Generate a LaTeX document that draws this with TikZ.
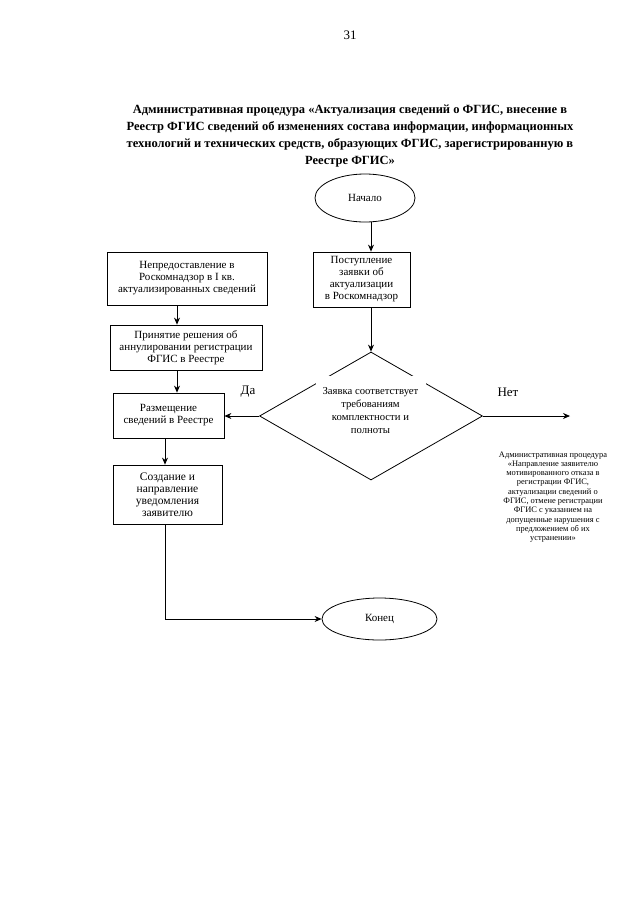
\documentclass[tikz,border=0pt]{standalone}
\usepackage{fontspec}
\setmainfont{Liberation Serif}
\usetikzlibrary{shapes.geometric,arrows.meta}
\newcommand{\fs}[2]{\fontsize{#1}{#2}\selectfont}
\tikzset{
  boxn/.style={draw, line width=0.8, align=center, inner sep=0, font=\fs{11}{12}},
  ovaln/.style={draw, ellipse, line width=0.8, inner sep=0, font=\fs{11}{12}},
  arr/.style={line width=0.8, -{Stealth[length=7,width=6]}},
  lbl/.style={font=\fs{13}{15}},
}
\begin{document}
\begin{tikzpicture}[x=1pt,y=-1pt]
\useasboundingbox[fill=white] (0,0) rectangle (640,905);
% page number and title
\node[font=\fs{13}{15}] (pg) at (350,35) {31};
\node[align=center, font=\bfseries\fs{12.5}{17}] (title) at (350,136)
  {Административная процедура «Актуализация сведений о ФГИС, внесение в\\
   Реестр ФГИС сведений об изменениях состава информации, информационных\\
   технологий и технических средств, образующих ФГИС, зарегистрированную в\\
   Реестре ФГИС»};
% nodes
\node[ovaln, minimum width=100, minimum height=48] (start) at (365,198) {Начало};
\node[boxn, minimum width=97, minimum height=55] (req) at (361.5,279.5)
  {Поступление\\заявки об\\актуализации\\в Роскомнадзор};
\node[boxn, minimum width=160, minimum height=53] (b1) at (187,278.5)
  {Непредоставление в\\Роскомнадзор в I кв.\\актуализированных сведений};
\node[boxn, minimum width=152, minimum height=45] (b2) at (186,347.5)
  {Принятие решения об\\аннулировании регистрации\\ФГИС в Реестре};
\node[boxn, minimum width=111, minimum height=45] (b3) at (168.5,415.5)
  {Размещение\\сведений в Реестре};
\node[boxn, minimum width=109, minimum height=59, font=\fs{11.5}{12}] (b4) at (167.5,494.5)
  {Создание и\\направление\\уведомления\\заявителю};
\node[draw, diamond, line width=0.8, minimum width=223, minimum height=128, inner sep=0] (d) at (371,416) {};
\node[fill=white, minimum width=110, minimum height=70, inner sep=0, align=center, font=\fs{10.7}{12.8}] (dt) at (370.5,410.5)
  {Заявка соответствует\\требованиям\\комплектности и\\полноты};
\node[ovaln, minimum width=115, minimum height=42] (end) at (379.5,619) {Конец};
\node[lbl] (yes) at (248,392) {Да};
\node[lbl] (no) at (508,392) {Нет};
\node[align=center, font=\fs{8.4}{9.3}] (ref) at (553,497)
  {Административная процедура\\«Направление заявителю\\мотивированного отказа в\\регистрации ФГИС,\\актуализации сведений о\\ФГИС, отмене регистрации\\ФГИС с указанием на\\допущенные нарушения с\\предложением об их\\устранении»};
% helper coordinates
\coordinate (xa) at (177,0);
\coordinate (xb) at (165,0);
\coordinate (xr) at (371,0);
\coordinate (noend) at (570,416);
% connectors
\draw[arr] (start.south -| xr) -- (req.north -| xr);
\draw[arr] (req.south -| xr) -- (d.north);
\draw[arr] (b1.south -| xa) -- (b2.north -| xa);
\draw[arr] (b2.south -| xa) -- (b3.north -| xa);
\draw[arr] (d.west) -- (d.west -| b3.east);
\draw[arr] (d.east) -- (noend);
\draw[arr] (b3.south -| xb) -- (b4.north -| xb);
\draw[arr] (b4.south -| xb) |- (end.west);
\end{tikzpicture}
\end{document}
